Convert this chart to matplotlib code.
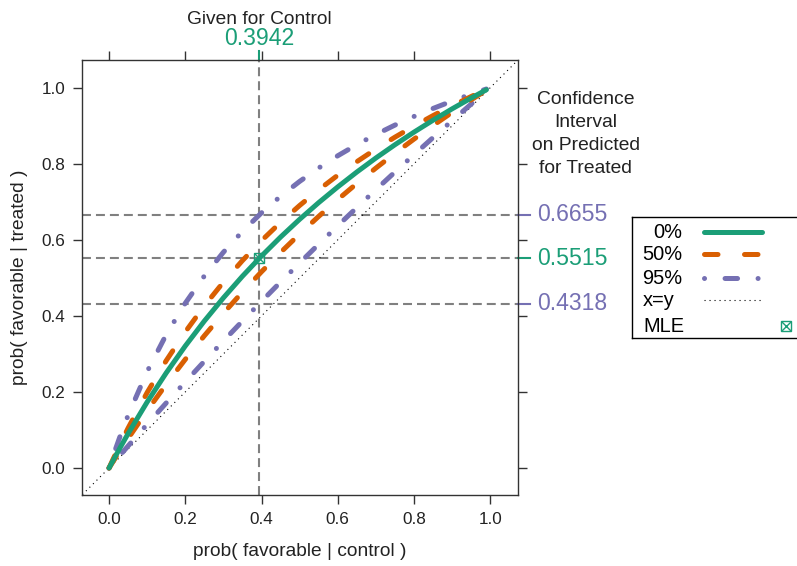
import matplotlib
matplotlib.use("Agg")
import matplotlib.pyplot as plt
import matplotlib.transforms as mtransforms

plt.rcParams["font.family"] = ["Liberation Sans", "DejaVu Sans"]

# values
p_control = [0.0, 0.01, 0.03, 0.05, 0.1, 0.15, 0.2, 0.25, 0.3, 0.35, 0.4, 0.45,
             0.5, 0.55, 0.6, 0.65, 0.7, 0.75, 0.8, 0.85, 0.9, 0.95, 0.99]
treated_0 = [0.0, 0.0187, 0.0552, 0.0905, 0.1736, 0.2501, 0.3209, 0.3865, 0.4475,
             0.5044, 0.5575, 0.6073, 0.6540, 0.6979, 0.7392, 0.7783, 0.8152,
             0.8501, 0.8832, 0.9146, 0.9445, 0.9729, 0.9947]
treated_50_hi = [0.0, 0.0220, 0.0645, 0.1050, 0.1986, 0.2824, 0.3579, 0.4264, 0.4887,
                 0.5456, 0.5979, 0.6460, 0.6904, 0.7316, 0.7699, 0.8055, 0.8388,
                 0.8700, 0.8992, 0.9267, 0.9525, 0.9769, 0.9955]
treated_50_lo = [0.0, 0.0159, 0.0472, 0.0777, 0.1509, 0.2202, 0.2857, 0.3478, 0.4068,
                 0.4628, 0.5161, 0.5669, 0.6154, 0.6617, 0.7059, 0.7482, 0.7887,
                 0.8276, 0.8649, 0.9007, 0.9351, 0.9682, 0.9937]
treated_95_hi = [0.0, 0.0300, 0.0865, 0.1387, 0.2537, 0.3507, 0.4334, 0.5050, 0.5674,
                 0.6223, 0.6711, 0.7146, 0.7537, 0.7890, 0.8211, 0.8504, 0.8771,
                 0.9018, 0.9245, 0.9455, 0.9650, 0.9831, 0.9967]
treated_95_lo = [0.0, 0.0117, 0.0349, 0.0580, 0.1150, 0.1711, 0.2263, 0.2806, 0.3340,
                 0.3865, 0.4382, 0.4891, 0.5392, 0.5885, 0.6370, 0.6848, 0.7319,
                 0.7783, 0.8239, 0.8689, 0.9133, 0.9570, 0.9914]

given_control = 0.3942
mle_treated = 0.5515
ci_lower = 0.4318
ci_upper = 0.6655
ticks = [0.0, 0.2, 0.4, 0.6, 0.8, 1.0]
legend_labels = ["0%", "50%", "95%", "x=y", "MLE"]

green = "#1B9E77"
orange = "#D95F02"
purple = "#7570B3"
gray = "#808080"

fig = plt.figure(figsize=(7.97, 5.66), dpi=100)
ax = fig.add_axes([82 / 797, 1 - 495 / 566, 436 / 797, 435 / 566])
lim = (-0.071, 1.073)
ax.set_xlim(lim)
ax.set_ylim(lim)

dash_50 = (0, (2.7, 5.3))
dash_95 = (0, (0.01, 4.1, 2.5, 4.1))
ref_dash = (0, (4.3, 2.4))

# reference lines for the given control value and predicted treated values
ax.axvline(given_control, color=gray, lw=1.5, ls=ref_dash)
for v in [ci_upper, mle_treated, ci_lower]:
    ax.axhline(v, color=gray, lw=1.5, ls=ref_dash)

ax.plot([-0.2, 1.2], [-0.2, 1.2], color="black", lw=0.8, ls=(0, (1, 3.5)))

kw = dict(lw=3.6, solid_capstyle="round", dash_capstyle="round")
ax.plot(p_control, treated_95_hi, color=purple, ls=dash_95, **kw)
ax.plot(p_control, treated_95_lo, color=purple, ls=dash_95, **kw)
ax.plot(p_control, treated_50_hi, color=orange, ls=dash_50, **kw)
ax.plot(p_control, treated_50_lo, color=orange, ls=dash_50, **kw)
ax.plot(p_control, treated_0, color=green, ls="-", **kw)

ax.plot([given_control], [mle_treated], marker="s", ms=7, mfc="none", mec=green, mew=1)
ax.plot([given_control], [mle_treated], marker="x", ms=7, mec=green, mew=1)

ax.set_xticks(ticks)
ax.set_yticks(ticks)
ax.set_xticklabels(["%.1f" % t for t in ticks])
ax.set_yticklabels(["%.1f" % t for t in ticks])
ax.tick_params(axis="both", direction="out", length=6.5, width=1, color="#333333",
               labelsize=12.3, top=True, right=True, pad=5.5, labelcolor="#222222")
for s in ax.spines.values():
    s.set_color("#333333")
    s.set_linewidth(1)

ax.set_xlabel("prob( favorable | control )", fontsize=13.8, labelpad=12, color="#222222")
ax.set_ylabel("prob( favorable | treated )", fontsize=13.8, labelpad=10, color="#222222")

# top annotation
trans_top = mtransforms.blended_transform_factory(ax.transData, ax.transAxes)
ax.text(given_control, 1.094, "Given for Control", transform=trans_top,
        ha="center", va="center", fontsize=13.8, color="#222222")
ax.text(given_control, 1.049, "%.4f" % given_control, transform=trans_top,
        ha="center", va="center", fontsize=16.6, color=green)
ax.plot([given_control, given_control], [1.0, 1.021], transform=trans_top,
        color=green, lw=1.5, clip_on=False)

# right annotation
trans_right = mtransforms.blended_transform_factory(ax.transAxes, ax.transData)
for v, c in [(ci_upper, purple), (mle_treated, green), (ci_lower, purple)]:
    ax.plot([1.0, 1.027], [v, v], transform=trans_right, color=c, lw=1.5, clip_on=False)
    ax.text(1.045, v, "%.4f" % v, transform=trans_right, ha="left", va="center",
            fontsize=16.6, color=c)
ax.text(1.155, 0.879, "Confidence\nInterval\non Predicted\nfor Treated",
        transform=trans_right, ha="center", va="center", fontsize=13.9,
        linespacing=1.45, color="#222222")

# legend box, drawn in pixel units
lax = fig.add_axes([632 / 797, 1 - 338 / 566, 170 / 797, 121 / 566])
lax.set_xlim(632, 802)
lax.set_ylim(338, 217)
lax.set_xticks([])
lax.set_yticks([])
lax.patch.set_alpha(0)
for s in lax.spines.values():
    s.set_color("black")
    s.set_linewidth(1)
lax.spines["right"].set_visible(False)

rows = [232, 254, 278, 300, 326]
styles = [(green, "-"), (orange, dash_50), (purple, dash_95)]
for i, lab in enumerate(legend_labels):
    if i < 3:
        lax.text(682, rows[i], lab, ha="right", va="center", fontsize=14.4)
        c, ls = styles[i]
        lax.plot([704, 762], [rows[i], rows[i]], color=c, ls=ls, **kw)
    else:
        lax.text(643, rows[i], lab, ha="left", va="center", fontsize=14.4)
lax.plot([704, 762], [rows[3], rows[3]], color="black", lw=0.8, ls=(0, (1, 3.5)))
lax.plot([786], [rows[4]], marker="s", ms=7, mfc="none", mec=green, mew=1)
lax.plot([786], [rows[4]], marker="x", ms=7, mec=green, mew=1)

fig.savefig("out.png", dpi=100)
